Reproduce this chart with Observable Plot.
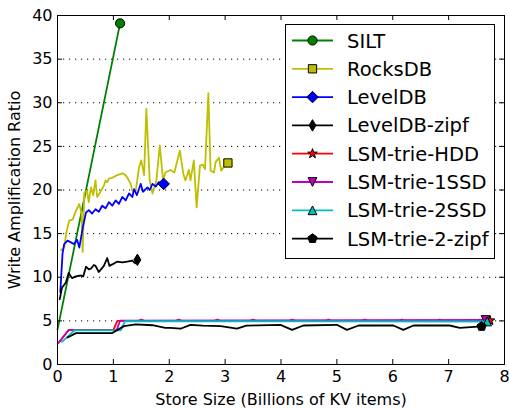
<!DOCTYPE html>
<html><head><meta charset="utf-8">
<script src="https://cdn.jsdelivr.net/npm/d3@7"></script>
<script src="https://cdn.jsdelivr.net/npm/@observablehq/plot@0.6"></script>
<style>body{margin:0;background:#fff;} #chart{width:509px;height:409px;} #chart svg text{font-size:16px;}</style>
</head><body><div id="chart"></div>
<script>
// ---- data (x: billions of KV items, y: write amplification ratio) ----
const seriesNames = ["SILT","RocksDB","LevelDB","LevelDB-zipf","LSM-trie-HDD","LSM-trie-1SSD","LSM-trie-2SSD","LSM-trie-2-zipf"];
const seriesColors = ["#008000","#bfbf00","#0000ff","#000000","#ff0000","#bf00bf","#00bfbf","#000000"];
const xTicks = [0,1,2,3,4,5,6,7,8];
const yTicks = [0,5,10,15,20,25,30,35,40];
const gridTicks = [5,10,15,20,25,30,35];

const silt = [[0,4.0],[1.12,39.1]];
const rocksdb = [[0.06,13.1],[0.12,13.4],[0.16,15.2],[0.21,16.5],[0.27,16.6],[0.33,17.6],[0.39,18.4],[0.43,17.3],[0.45,12.9],[0.48,19.7],[0.53,19.9],[0.56,18.6],[0.6,20.3],[0.64,19.4],[0.68,21.1],[0.71,19.2],[0.77,19.8],[0.83,20.5],[0.86,21.1],[0.89,20.9],[0.92,21.3],[0.98,21.4],[1.07,21.7],[1.16,21.9],[1.22,21.7],[1.25,21.4],[1.31,20.7],[1.34,19.9],[1.4,19.9],[1.46,22.6],[1.5,23.4],[1.55,21.7],[1.59,29.3],[1.65,21.1],[1.7,19.6],[1.77,21.1],[1.83,25.1],[1.89,21.1],[1.93,22.0],[2.02,22.3],[2.09,22.0],[2.19,24.5],[2.25,21.9],[2.29,21.1],[2.35,22.3],[2.38,21.1],[2.44,23.4],[2.49,18.0],[2.55,22.8],[2.6,22.9],[2.64,22.4],[2.7,31.1],[2.74,22.2],[2.8,22.0],[2.83,23.2],[2.89,23.7],[2.93,22.2],[2.97,22.6],[3.05,23.1]];
const leveldb = [[0.05,8.3],[0.09,12.7],[0.12,13.8],[0.18,14.2],[0.24,14.0],[0.3,13.8],[0.35,14.3],[0.39,13.4],[0.45,15.6],[0.51,17.4],[0.56,17.7],[0.62,17.3],[0.68,17.8],[0.74,17.5],[0.8,18.2],[0.86,17.9],[0.92,18.6],[0.98,18.2],[1.04,18.8],[1.1,18.4],[1.16,19.2],[1.22,18.8],[1.28,19.6],[1.34,19.2],[1.37,20.1],[1.42,19.4],[1.49,20.7],[1.53,19.8],[1.61,20.3],[1.65,20.0],[1.7,20.7],[1.76,20.4],[1.81,20.9],[1.9,20.7]];
const leveldbZipf = [[0.04,7.5],[0.08,8.8],[0.15,9.4],[0.2,10.5],[0.26,9.9],[0.33,10.1],[0.42,10.2],[0.46,10.1],[0.51,11.2],[0.56,10.9],[0.6,11.0],[0.65,11.4],[0.68,11.3],[0.74,10.6],[0.83,11.3],[0.89,12.2],[0.93,11.3],[0.99,11.5],[1.07,11.8],[1.16,11.7],[1.25,11.8],[1.34,11.9],[1.39,11.6],[1.43,12.0]];
const lsmHdd = [[0.02,2.5],[0.2,3.95],[1.0,3.95],[1.07,5.0],[1.45,5.0],[1.5,5.15],[1.55,5.0],[2.12,5.0],[2.17,5.15],[2.22,5.0],[2.81,5.0],[2.86,5.15],[2.91,5.0],[3.45,5.0],[3.5,5.15],[3.55,5.0],[4.15,5.0],[4.2,5.15],[4.25,5.0],[4.8,5.0],[4.85,5.15],[4.9,5.0],[5.45,5.0],[5.5,5.15],[5.55,5.0],[6.11,5.0],[6.16,5.15],[6.21,5.0],[6.79,5.0],[6.84,5.15],[6.89,5.0],[7.51,5.0],[7.56,5.15],[7.61,5.0],[7.74,5.04]];
const lsm1ssd = [[0.02,2.5],[0.2,3.95],[1.06,3.95],[1.12,5.02],[7.66,5.1]];
const lsm2ssd = [[0.08,2.6],[0.3,3.9],[1.13,3.9],[1.21,4.98],[7.69,4.93]];
const lsm2zipf = [[0.18,3.1],[0.33,3.6],[0.98,3.6],[1.19,4.4],[1.4,4.6],[1.7,4.5],[1.93,4.2],[2.02,4.2],[2.2,4.1],[2.38,4.55],[2.6,4.45],[2.92,4.4],[3.21,4.1],[3.38,4.45],[3.99,4.55],[4.2,3.97],[4.4,4.47],[5.0,4.55],[5.18,3.97],[5.39,4.47],[6.01,4.47],[6.19,3.97],[6.37,4.47],[7.02,4.47],[7.2,4.2],[7.59,4.36]];
const seriesData = [silt, rocksdb, leveldb, leveldbZipf, lsmHdd, lsm1ssd, lsm2ssd, lsm2zipf];

// ---- marker shapes (matplotlib-like) ----
const rad = s => Math.sqrt(s / Math.PI);
const mCircle = {draw(c,s){const r=rad(s); c.moveTo(r,0); c.arc(0,0,r,0,2*Math.PI);}};
const mSquare = {draw(c,s){const r=rad(s)*0.9; c.rect(-r,-r,2*r,2*r);}};
const mDiamond = {draw(c,s){const r=rad(s)*1.25; c.moveTo(0,-r); c.lineTo(r,0); c.lineTo(0,r); c.lineTo(-r,0); c.closePath();}};
const mThinDiamond = {draw(c,s){const r=rad(s)*1.25; c.moveTo(0,-r); c.lineTo(r*0.6,0); c.lineTo(0,r); c.lineTo(-r*0.6,0); c.closePath();}};
const mStar = {draw(c,s){const R=rad(s)*1.1, r=R*0.4; for(let i=0;i<10;i++){const a=-Math.PI/2+i*Math.PI/5, q=i%2?r:R; const x=q*Math.cos(a), y=q*Math.sin(a); i?c.lineTo(x,y):c.moveTo(x,y);} c.closePath();}};
const mTriDown = {draw(c,s){const r=rad(s)*0.95; c.moveTo(0,r); c.lineTo(-r,-r); c.lineTo(r,-r); c.closePath();}};
const mTriUp = {draw(c,s){const r=rad(s)*0.95; c.moveTo(0,-r); c.lineTo(r,r); c.lineTo(-r,r); c.closePath();}};
const mPentagon = {draw(c,s){const r=rad(s)*1.05; for(let i=0;i<5;i++){const a=-Math.PI/2+i*2*Math.PI/5; const x=r*Math.cos(a), y=r*Math.sin(a); i?c.lineTo(x,y):c.moveTo(x,y);} c.closePath();}};
const seriesSymbols = [mCircle, mSquare, mDiamond, mThinDiamond, mStar, mTriDown, mTriUp, mPentagon];
const markerR = 4.6;

const seriesMarks = [];
seriesData.forEach((d, i) => {
  seriesMarks.push(Plot.line(d, {x: p => p[0], y: p => p[1], stroke: seriesColors[i], strokeWidth: 1.8, strokeLinejoin: "round"}));
  seriesMarks.push(Plot.dot([d[d.length - 1]], {x: p => p[0], y: p => p[1], symbol: seriesSymbols[i], r: markerR, fill: seriesColors[i], stroke: "black", strokeWidth: 1}));
});

// frame geometry (pixels) used only for the inward tick length
const M = {top: 15, bottom: 45, left: 57, right: 5};
const W = 509, H = 409, tickLen = 5;
const fw = W - M.left - M.right, fh = H - M.top - M.bottom;

const plot = Plot.plot({
  width: W, height: H,
  marginTop: M.top, marginBottom: M.bottom, marginLeft: M.left, marginRight: M.right,
  style: {fontFamily: "'DejaVu Sans', sans-serif", fontSize: "16px", color: "black", background: "white", overflow: "visible"},
  x: {domain: [0, 8]},
  y: {domain: [0, 40]},
  marks: [
    Plot.gridY(gridTicks, {stroke: "black", strokeOpacity: 1, strokeWidth: 1, strokeDasharray: "1.2,4.8"}),
    ...seriesMarks,
    // inward ticks on all four sides
    Plot.ruleX(xTicks, {x: d => d, stroke: "black", insetTop: fh - tickLen}),
    Plot.ruleX(xTicks, {x: d => d, stroke: "black", insetBottom: fh - tickLen}),
    Plot.ruleY(yTicks, {y: d => d, stroke: "black", insetRight: fw - tickLen}),
    Plot.ruleY(yTicks, {y: d => d, stroke: "black", insetLeft: fw - tickLen}),
    Plot.axisX(xTicks, {anchor: "bottom", tickSize: 0, tickPadding: 6, label: "Store Size (Billions of KV items)", labelAnchor: "center", labelOffset: 40, labelArrow: "none"}),
    Plot.axisY(yTicks, {anchor: "left", tickSize: 0, tickPadding: 5, label: "Write Amplification Ratio", labelAnchor: "center", labelOffset: 49, labelArrow: "none"}),
    Plot.frame({stroke: "black", strokeWidth: 1})
  ]
});
document.getElementById("chart").appendChild(plot);

// ---- legend (box inside the plot area, upper right) ----
const svg = d3.select(plot);
const lg = svg.append("g").attr("font-family", "'DejaVu Sans', sans-serif").attr("text-anchor", "start");
lg.append("rect").attr("x", 285.5).attr("y", 24.5).attr("width", 209).attr("height", 234).attr("fill", "white").attr("stroke", "black").attr("stroke-width", 1);
seriesNames.forEach((name, i) => {
  const cy = 40.5 + i * 28.3;
  lg.append("line").attr("x1", 292).attr("x2", 333).attr("y1", cy).attr("y2", cy).attr("stroke", seriesColors[i]).attr("stroke-width", 1.8);
  lg.append("path").attr("transform", `translate(312.5,${cy})`).attr("d", d3.symbol(seriesSymbols[i], Math.PI * markerR * markerR)()).attr("fill", seriesColors[i]).attr("stroke", "black").attr("stroke-width", 1);
  lg.append("text").attr("x", 347).attr("y", cy).attr("dy", "0.36em").attr("style", "font-size:19.5px").attr("text-anchor", "start").text(name);
});
</script></body></html>
